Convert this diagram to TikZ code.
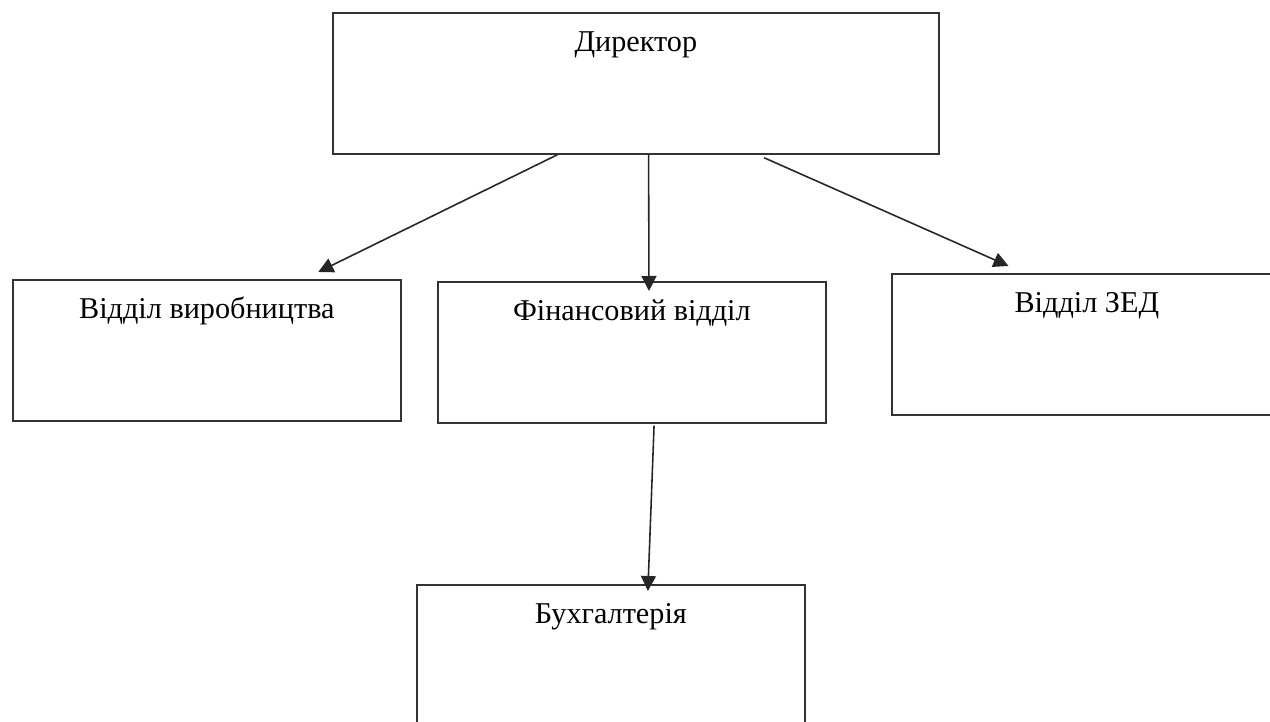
\documentclass[tikz,border=0pt]{standalone}
\usepackage{fontspec}
\setmainfont{Liberation Serif}
\usetikzlibrary{arrows.meta}
\usetikzlibrary{calc}

\tikzset{
    unit/.style={draw=black!80, line width=1pt, rectangle, anchor=north west,
        minimum width=7.76cm, minimum height=2.82cm, inner sep=0pt,
        text height=0.78cm, text depth=2.04cm,
        font=\fontsize{17.2}{20}\selectfont},
    arr/.style={-{Triangle[length=0.3cm, width=0.3cm]}, line width=0.9pt, black!85},
}

\begin{document}
\begin{tikzpicture}[x=0.02cm, y=-0.02cm]
    \useasboundingbox (0, 0) rectangle (1270, 722);
    % head
    \node [unit, minimum width=12.12cm] (dir) at (332, 12) {Директор};
    % departments
    \node [unit] (prod) at (12, 279) {Відділ виробництва};
    \node [unit] (fin) at (437, 281) {Фінансовий відділ};
    \node [unit, minimum width=7.8cm] (zed) at (891, 273) {Відділ ЗЕД};
    \node [unit] (acc) at (416, 584) {Бухгалтерія};
    % links
    \draw [arr] ($(dir.south west)!0.371!(dir.south east)$) to ($(prod.north west)!0.786!(prod.north east) + (0, -7)$);
    \draw [arr] ($(dir.south west)!0.521!(dir.south east)$) to ($(fin.north west)!0.544!(fin.north east) + (0, 10)$);
    \draw [arr] ($(dir.south west)!0.711!(dir.south east) + (0, 3)$) to ($(zed.north west)!0.3!(zed.north east) + (0, -7)$);
    \draw [arr] ($(fin.south west)!0.557!(fin.south east) + (0, 2)$) to ($(acc.north west)!0.595!(acc.north east) + (0, 7)$);
\end{tikzpicture}
\end{document}
